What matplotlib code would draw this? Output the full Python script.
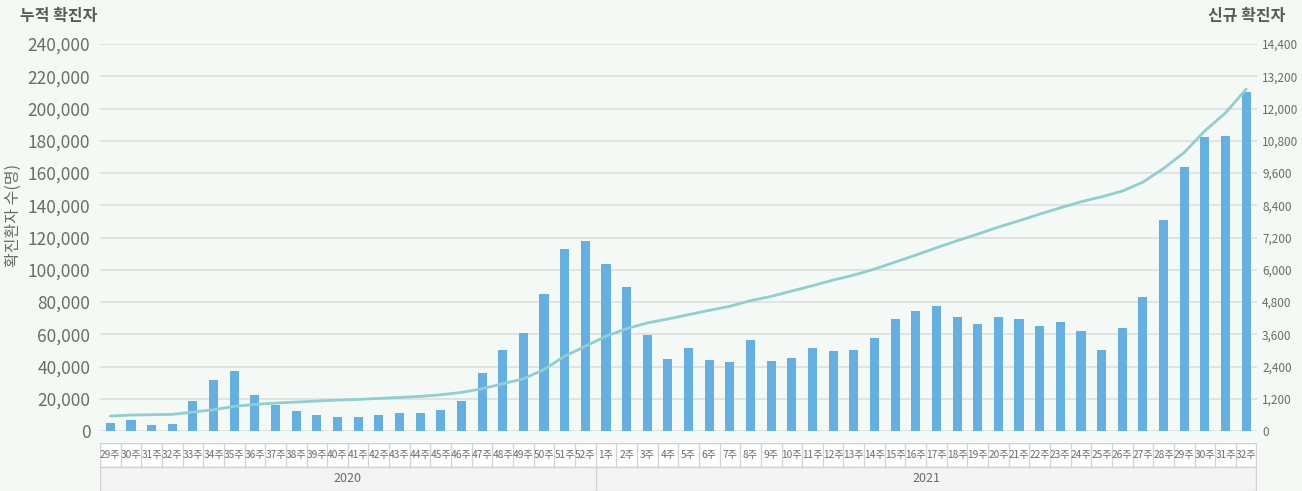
"""Weekly new COVID-19 cases (bars) and cumulative cases (line), 2020 wk29 - 2021 wk32."""
import matplotlib
matplotlib.use("Agg")
import matplotlib.pyplot as plt
from matplotlib.patches import Rectangle

plt.rcParams["font.family"] = ["Noto Sans CJK KR", "DejaVu Sans"]

BG = "#f5f9f6"
BAR = "#65b0e2"
LINE = "#8ecfcf"
GRID = "#dcdcdc"
TEXT = "#6b6b6b"
BORDER = "#d2d2d2"

WEEKS_2020 = [f"{w}주" for w in range(29, 53)]
WEEKS_2021 = [f"{w}주" for w in range(1, 33)]
WEEKS = WEEKS_2020 + WEEKS_2021

NEW_CASES = [
    285, 396, 210, 247, 1101, 1880, 2214, 1324, 953, 730, 581, 507, 507, 581,
    656, 656, 767, 1101, 2140, 3031, 3662, 5109, 6779, 7076,
    6223, 5369, 3588, 2697, 3105, 2660, 2586, 3402, 2623, 2734, 3105, 2975,
    3012, 3459, 4165, 4463, 4649, 4240, 3979, 4240, 4165, 3905, 4054, 3719,
    3012, 3831, 4983, 7847, 9818, 10934, 10971, 12607,
]

CUMULATIVE = [
    9278, 9897, 10100, 10309, 11750, 13196, 15258, 16495, 17320, 17938, 18557,
    19175, 19588, 20206, 20825, 21443, 22470, 23918, 26186, 29278, 32371,
    38144, 46392, 52577,
    58763, 63505, 67010, 69485, 72165, 74845, 77320, 80825, 83505, 86804,
    90103, 93595, 96694, 100413, 104752, 109091, 113636, 117975, 122107,
    126446, 130372, 134504, 138430, 142149, 145248, 148760, 154339, 162810,
    172727, 186157, 197314, 211983,
]

LEFT_TICKS = list(range(0, 240001, 20000))
RIGHT_TICKS = list(range(0, 14401, 1200))

W, H = 1302, 491


def main():
    fig = plt.figure(figsize=(W / 100, H / 100), dpi=100)
    fig.patch.set_facecolor(BG)

    x0, x1 = 100, 1256.5
    ax = fig.add_axes([x0 / W, 1 - 431 / H, (x1 - x0) / W, (431 - 44) / H])
    ax.set_facecolor(BG)
    ax2 = ax.twinx()

    n = len(WEEKS)
    xs = list(range(n))

    ax2.bar(xs, NEW_CASES, width=0.44, color=BAR, zorder=2)
    ax.plot(xs, CUMULATIVE, color=LINE, linewidth=2.0, zorder=5, solid_capstyle="round")

    ax.set_zorder(ax2.get_zorder() + 1)
    ax.patch.set_visible(False)
    ax2.patch.set_visible(True)
    ax2.patch.set_facecolor(BG)

    for a, lim in ((ax, 240000), (ax2, 14400)):
        a.set_xlim(-0.5, n - 0.5)
        a.set_ylim(0, lim)
        for s in a.spines.values():
            s.set_visible(False)
        a.set_xticks([])

    for v in LEFT_TICKS:
        ax2.axhline(v * 14400 / 240000, color=GRID, linewidth=1.1, zorder=1)

    ax.set_yticks(LEFT_TICKS)
    ax.set_yticklabels([f"{v:,}" for v in LEFT_TICKS])
    ax.tick_params(axis="y", length=0, pad=7, labelsize=12.5, labelcolor=TEXT)

    ax2.set_yticks(RIGHT_TICKS)
    ax2.set_yticklabels([f"{v:,}" for v in RIGHT_TICKS])
    ax2.tick_params(axis="y", length=0, pad=4, labelsize=8.5, labelcolor=TEXT)

    fig.text(20 / W, 1 - 16 / H, "누적 확진자", ha="left", va="center",
             fontsize=11.5, color="#5a5a5a", fontweight="bold")
    fig.text(1285 / W, 1 - 16 / H, "신규 확진자", ha="right", va="center",
             fontsize=11.5, color="#5a5a5a", fontweight="bold")
    fig.text(13 / W, 1 - 215 / H, "확진환자 수(명)", ha="center", va="center",
             rotation=90, fontsize=11.5, color=TEXT)

    # category table below the plot
    tab = fig.add_axes([x0 / W, 1 - 491 / H, (x1 - x0) / W, (491 - 443) / H])
    tab.set_xlim(-0.5, n - 0.5)
    tab.set_ylim(0, 48)
    tab.set_axis_off()
    row_split = 24
    tab.add_patch(Rectangle((-0.5, row_split), n, 24, facecolor="#fdfdfd",
                            edgecolor=BORDER, linewidth=1))
    tab.add_patch(Rectangle((-0.5, 0.5), n, row_split - 0.5, facecolor="#f3f3f3",
                            edgecolor=BORDER, linewidth=1))
    for i in range(1, n):
        tab.plot([i - 0.5, i - 0.5], [row_split, 48], color=BORDER, linewidth=0.9)
    split = len(WEEKS_2020)
    tab.plot([split - 0.5, split - 0.5], [0.5, row_split], color=BORDER, linewidth=0.9)
    for i, lab in enumerate(WEEKS):
        tab.text(i, row_split + 12, lab, ha="center", va="center",
                 fontsize=7.3, color=TEXT)
    tab.text((split - 1) / 2, row_split / 2, "2020", ha="center", va="center",
             fontsize=9, color=TEXT)
    tab.text(split + (n - split - 1) / 2, row_split / 2, "2021", ha="center",
             va="center", fontsize=9, color=TEXT)

    fig.savefig("out.png", dpi=100, facecolor=BG)


if __name__ == "__main__":
    main()
